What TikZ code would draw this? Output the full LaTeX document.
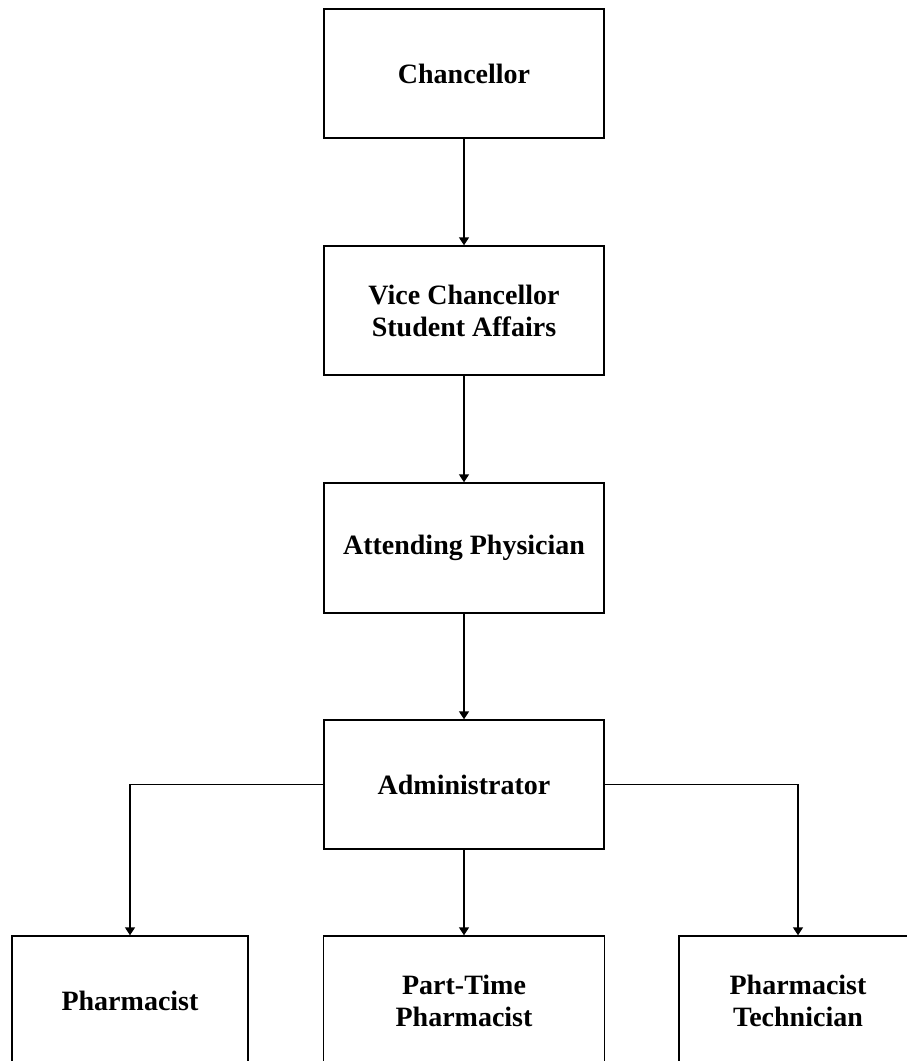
\documentclass[tikz,border=0pt]{standalone}
\usepackage{fontspec}
\setmainfont{Liberation Serif}
\usetikzlibrary{arrows.meta}
\begin{document}
\begin{tikzpicture}[x=1pt,y=-1pt,
  box/.style={draw=black,line width=1.4pt,fill=white,inner sep=0pt,align=center,
    font=\fontsize{28}{32}\selectfont\bfseries,minimum height=129pt},
  conn/.style={line width=1.4pt,-{Triangle[width=10pt,length=8pt]}}]
\useasboundingbox (0,0) rectangle (907,1061);
\clip (0,0) rectangle (907,1061);
\node[box,minimum width=280pt] (ch) at (464,73.5) {Chancellor};
\node[box,minimum width=280pt] (vc) at (464,310.5) {Vice Chancellor\\Student Affairs};
\node[box,minimum width=280pt,minimum height=130pt] (at) at (464,548) {Attending Physician};
\node[box,minimum width=280pt] (ad) at (464,784.5) {Administrator};
\node[box,minimum width=236pt,minimum height=130pt] (ph) at (130,1001) {Pharmacist};
\node[box,minimum width=281pt,minimum height=130pt] (pt) at (464,1001) {Part-Time\\Pharmacist};
\node[box,minimum width=238pt,minimum height=130pt] (tc) at (798,1001) {Pharmacist\\Technician};
\draw[conn] (ch.south) -- (vc.north);
\draw[conn] (vc.south) -- (at.north);
\draw[conn] (at.south) -- (ad.north);
\draw[conn] (ad.west) -| (ph.north);
\draw[conn] (ad.south) -- (pt.north);
\draw[conn] (ad.east) -| (tc.north);
\end{tikzpicture}
\end{document}
